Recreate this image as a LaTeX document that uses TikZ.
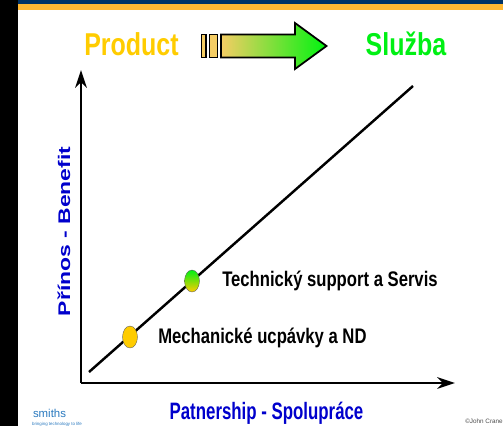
\documentclass[tikz,border=0pt]{standalone}
\usepackage{fontspec}
\setmainfont{Liberation Sans}
\usepackage{xcolor}
\definecolor{navybar}{RGB}{0,51,102}
\definecolor{orangebar}{RGB}{255,184,51}
\definecolor{prodyellow}{RGB}{255,204,0}
\definecolor{sluzbagreen}{RGB}{0,240,20}
\definecolor{axisblue}{RGB}{0,0,204}
\definecolor{arrowfill}{RGB}{245,205,100}
\definecolor{logoblue}{RGB}{40,120,190}
\tikzset{
  headline/.style={font=\bfseries\fontsize{18}{20}\selectfont,xscale=0.79,inner sep=0},
  axislabel/.style={font=\bfseries\fontsize{13.5}{15}\selectfont,text=axisblue,xscale=0.71,inner sep=0},
  dotlabel/.style={font=\bfseries\fontsize{12}{14}\selectfont,xscale=0.79,inner sep=0,anchor=west},
  dot/.style={draw=gray!70!black,very thin,ellipse,minimum width=8.5pt,minimum height=12.5pt,inner sep=0},
  axisline/.style={line width=1.6pt,-{Stealth[length=10pt,width=6.5pt,inset=3pt]}}
}
\usetikzlibrary{arrows.meta,shapes.geometric}
\begin{document}
\begin{tikzpicture}[x=0.02cm,y=-0.02cm]
\useasboundingbox (0,0) rectangle (503,426);
% page bars
\fill [black] (0,0) rectangle (18,426);
\fill [navybar] (18,0) rectangle (503,4);
\fill [orangebar] (18,4) rectangle (503,9.5);
% titles
\node [headline,text=prodyellow] (product) at (131.5,44) {Product};
\node [headline,text=sluzbagreen] (sluzba) at (406,44) {Služba};
% arrow
\draw [line width=1pt,fill=arrowfill] (201.5,34.5) rectangle (206,57.5);
\draw [line width=1pt,fill=arrowfill] (209.5,34.5) rectangle (217.5,57.5);
\draw [line width=1pt,left color=arrowfill,right color=sluzbagreen!80!green] (221,34.5) -- (295,34.5) -- (295,23) -- (326.5,46) -- (295,69) -- (295,57.5) -- (221,57.5) -- cycle;
% axes
\coordinate (origin) at (81,383);
\coordinate (ytop) at (81,70);
\coordinate (xend) at (455,383);
\draw [axisline] (origin) -- (ytop);
\draw [axisline] (origin) -- (xend);
\coordinate (linestart) at (89,372);
\coordinate (lineend) at (413,86);
\draw [line width=1.4pt] (linestart) -- (lineend);
% points
\node [dot,fill=prodyellow] (mech) at (130,337) {};
\node [dot,top color=sluzbagreen,bottom color=prodyellow] (tech) at (192,281) {};
\node [dotlabel] (techlabel) at (222,281) {Technický support a Servis};
\node [dotlabel] (mechlabel) at (158,338) {Mechanické ucpávky a ND};
% axis labels
\node [axislabel,rotate=90,xscale=0.966] (benefit) at (64,231.5) {Přínos - Benefit};
\node [axislabel] (partner) at (266.5,413) {Patnership - Spolupráce};
% footer
\node [text=logoblue,font=\fontsize{6.5}{7}\selectfont,inner sep=0] (smiths) at (49.5,413.5) {smiths};
\node [text=logoblue,font=\fontsize{2.5}{3}\selectfont,inner sep=0] (slogan) at (57,424) {bringing technology to life};
\node [text=black!70,font=\fontsize{3.6}{4}\selectfont,inner sep=0] (crane) at (484,421.5) {©John Crane};
\end{tikzpicture}
\end{document}
